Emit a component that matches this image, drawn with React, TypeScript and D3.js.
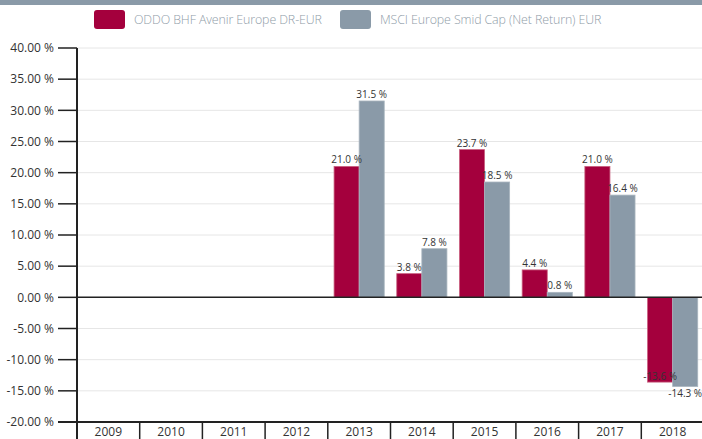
import React from "react";
import * as d3 from "d3";

const years = ["2009", "2010", "2011", "2012", "2013", "2014", "2015", "2016", "2017", "2018"];
const seriesNames = ["ODDO BHF Avenir Europe DR-EUR", "MSCI Europe Smid Cap (Net Return) EUR"];
const oddoValues: (number | null)[] = [null, null, null, null, 21.0, 3.8, 23.7, 4.4, 21.0, -13.6];
const msciValues: (number | null)[] = [null, null, null, null, 31.5, 7.8, 18.5, 0.8, 16.4, -14.3];
const yTicks = [40, 35, 30, 25, 20, 15, 10, 5, 0, -5, -10, -15, -20];
const colors = ["#a4003d", "#8a9aa8"];
const strokeColors = ["#c9607f", "#a9b5bf"];

const W = 702, H = 439;
const FONT = "'Open Sans', sans-serif";

export default function App() {
  const left = 77;
  const bandW = 62.7;
  const x = d3.scaleBand<string>().domain(years).range([left, left + bandW * years.length]).padding(0);
  const x1 = d3.scaleBand<string>().domain(["0", "1"]).range([0, x.bandwidth()]).paddingInner(0).paddingOuter(0.25);
  const y = d3.scaleLinear().domain([-20, 40]).range([422, 48]);
  const fmtTick = (v: number) => `${v.toFixed(2)} %`;
  const fmtVal = (v: number) => `${v.toFixed(1)} %`;
  const series = [oddoValues, msciValues];

  return (
    <svg width={W} height={H} style={{ position: "absolute", left: 0, top: 0 }} fontFamily={FONT}>
      <rect x={0} y={0} width={W} height={H} fill="#fff" />
      <rect x={0} y={0} width={W} height={5} fill="#8a9aa8" />
      {/* legend */}
      <g>
        <rect x={94} y={10} width={31} height={19} rx={3} fill={colors[0]} />
        <text x={134} y={24} fontSize={12.4} fill="#8f9ca8" fontWeight={300} letterSpacing={-0.1}>{seriesNames[0]}</text>
        <rect x={340} y={10} width={31} height={19} rx={3} fill={colors[1]} />
        <text x={380} y={24} fontSize={12.4} fill="#8f9ca8" fontWeight={300} letterSpacing={-0.1}>{seriesNames[1]}</text>
      </g>
      {/* gridlines */}
      {yTicks.map((t) => (
        <line key={"g" + t} x1={left} x2={W} y1={y(t)} y2={y(t)} stroke="#e6e6e6" strokeWidth={1} />
      ))}
      {/* y ticks & labels */}
      {yTicks.map((t) => (
        <g key={"t" + t}>
          <line x1={58} x2={left} y1={y(t)} y2={y(t)} stroke="#222" strokeWidth={t === -20 ? 2 : 1.5} />
          <text x={54} y={y(t)} dy="0.35em" textAnchor="end" fontSize={12} fill="#333">{fmtTick(t)}</text>
        </g>
      ))}
      {/* bars */}
      {series.map((vals, si) =>
        vals.map((v, i) => {
          if (v === null) return null;
          const bx = (x(years[i]) as number) + (x1(String(si)) as number);
          const y0 = y(0), yv = y(v);
          return (
            <rect key={`b${si}-${i}`} x={bx} y={Math.min(y0, yv)} width={x1.bandwidth()} height={Math.abs(yv - y0)}
              fill={colors[si]} stroke={strokeColors[si]} strokeWidth={0.8} />
          );
        })
      )}
      {/* zero line */}
      <line x1={left} x2={W} y1={y(0)} y2={y(0)} stroke="#222" strokeWidth={1.5} />
      {/* value labels */}
      {series.map((vals, si) =>
        vals.map((v, i) => {
          if (v === null) return null;
          const cx = (x(years[i]) as number) + (x1(String(si)) as number) + x1.bandwidth() / 2;
          let cy: number;
          if (v >= 0) cy = y(v) - 6.5;
          else cy = si === 0 ? y(v) - 5.5 : y(v) + 7;
          return (
            <text key={`l${si}-${i}`} x={cx} y={cy} dy="0.35em" textAnchor="middle" fontSize={10} fill="#333">{fmtVal(v)}</text>
          );
        })
      )}
      {/* axes */}
      <line x1={left} x2={left} y1={48} y2={H} stroke="#222" strokeWidth={2} />
      <line x1={left} x2={W} y1={422} y2={422} stroke="#222" strokeWidth={2} />
      {years.map((yr) => (
        <g key={"x" + yr}>
          <line x1={(x(yr) as number) + bandW} x2={(x(yr) as number) + bandW} y1={422} y2={H} stroke="#222" strokeWidth={1.5} />
          <text x={(x(yr) as number) + bandW / 2} y={436} textAnchor="middle" fontSize={12} fill="#333">{yr}</text>
        </g>
      ))}
    </svg>
  );
}
